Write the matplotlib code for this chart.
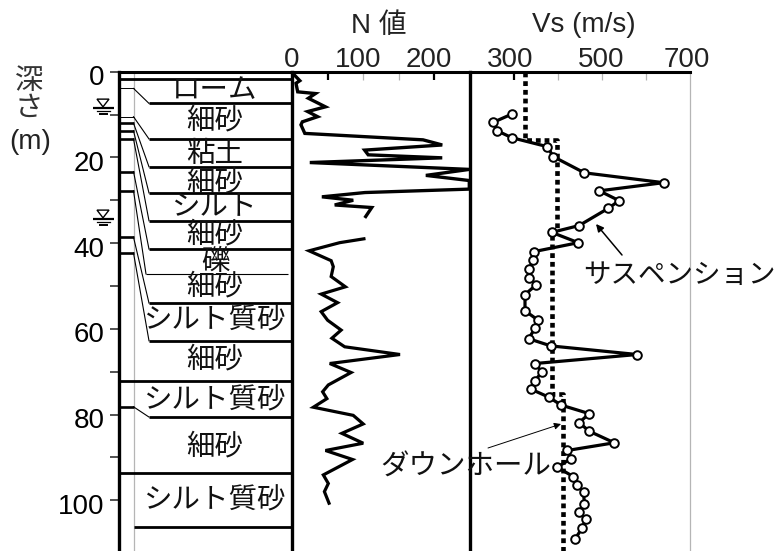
import matplotlib
matplotlib.use("Agg")
import matplotlib.pyplot as plt
from matplotlib.transforms import ScaledTranslation

plt.rcParams['font.family'] = ['Liberation Sans', 'Noto Sans CJK JP', 'DejaVu Sans']

W, H = 779, 551
TOP = 71.7
PX_PER_M = 4.285
DEPTH_MAX = (H - TOP) / PX_PER_M

# --- data ---
n_depth_a = [0.2, 2.1, 2.7, 4.7, 5.1, 6.2, 8.2, 9.3, 10.5, 11.7, 12.4, 14.4, 15.9, 17.1, 18.3, 19.4,
             20.1, 21.2, 22.8, 24.2, 25.4, 27.4, 28.2, 29.2, 30.0, 31.1, 31.7, 33.8]
n_value_a = [0, 11, 5.6, 8, 33, 23, 47, 22, 36, 14.5, 12.6, 18, 184, 211, 102, 107,
             211, 25, 249, 188, 249, 249, 102.5, 42, 86, 60, 112, 103.5]
n_depth_b = [39.0, 39.9, 41.8, 44.1, 45.5, 47.8, 50.2, 51.9, 53.9, 56.0, 58.0, 60.3, 62.2, 64.2, 66.0,
             68.1, 70.2, 73.1, 74.7, 76.3, 78.3, 80.2, 82.2, 84.4, 86.7, 88.4, 90.5, 94.1, 96.1, 98.0, 100.7]
n_value_b = [101, 67, 24, 55, 58, 55, 75, 41, 64, 41, 50, 69, 56, 74, 151.7,
             53, 83, 51, 43, 49, 30, 86, 100, 70, 100, 47, 85, 44, 51, 45.5, 52]

vs_depth = [9.9, 11.8, 13.8, 15.4, 17.5, 19.8, 23.6, 25.9, 27.8, 30.1, 31.9, 35.9, 37.5, 39.9, 42.0, 44.0,
            46.1, 48.2, 49.7, 52.0, 55.8, 58.0, 59.9, 62.3, 64.0, 66.0, 68.1, 70.1, 72.1, 74.1, 76.0,
            77.8, 79.8, 81.9, 83.9, 86.6, 88.4, 90.3, 92.3, 94.5, 96.5, 98.2, 100.8, 102.8, 104.5, 106.5, 109.0]
vs_value = [295, 253, 262, 295, 376, 389, 460, 640, 494, 539, 514, 448, 386, 446, 345, 343,
            335, 335, 351, 325, 325, 355, 348, 333, 384, 580, 348, 363, 348, 339, 380,
            407, 471, 448, 471, 528, 421, 430, 398, 435, 444, 458, 460, 448, 463, 455, 439]

dh_depth = [0, 15.9, 15.9, 37.0, 37.0, 75.3, 75.3, DEPTH_MAX]
dh_value = [326, 326, 398, 398, 386, 386, 412, 412]

stub_depth = [3.9, 10.5, 12.0, 13.8, 15.7, 23.3, 27.8, 38.6, 42.3, 78.2]
stub_thick = [False, False, True, True, True, True, True, True, True, True]
layer_depth = [7.4, 15.7, 22.2, 28.3, 34.8, 41.4, 47.2, 54.0, 62.8, 80.6]
full_depth = [1.7, 72.2, 93.6]
base_depth = 106.3
water_depth = [8.5, 34.4]

soil_names = ['ローム', '細砂', '粘土', '細砂', 'シルト', '細砂', '礫', '細砂', 'シルト質砂', '細砂', 'シルト質砂', '細砂', 'シルト質砂']
soil_depth = [3.8, 11.0, 18.8, 25.3, 31.1, 37.6, 44.0, 49.6, 57.7, 66.8, 76.4, 86.9, 99.7]

y_ticks = [0, 20, 40, 60, 80, 100]
y_minor = [10, 30, 50, 70, 90]

NUM_SIZE = 20
JP_SIZE = 20.5


def new_axes(x0, x1):
    return fig.add_axes([x0 / W, 0, (x1 - x0) / W, (H - TOP) / H])


fig = plt.figure(figsize=(W / 100, H / 100), dpi=100)
ax_log = new_axes(119, 292)
ax_n = new_axes(292, 470)
ax_vs = new_axes(470, 690)

for ax in (ax_log, ax_n, ax_vs):
    ax.set_ylim(DEPTH_MAX, 0)
    ax.patch.set_alpha(0)
    ax.spines['bottom'].set_visible(False)
    ax.spines['top'].set_linewidth(2.2)
    ax.spines['left'].set_linewidth(2.4)
    ax.spines['right'].set_visible(False)
    ax.set_yticks([])
    ax.set_xticks([])

# --- log column ---
ax_log.set_xlim(0, 173)
ax_log.set_yticks(y_ticks)
ax_log.set_yticks(y_minor, minor=True)
ax_log.tick_params(axis='y', which='both', length=6.5, width=1.1, pad=4, labelsize=NUM_SIZE, color='#222222')
down = ScaledTranslation(0, -2.5 / 72, fig.dpi_scale_trans)
for lab in ax_log.get_yticklabels():
    lab.set_transform(lab.get_transform() + down)
ax_log.axvline(14.5, color='#b5b5b5', lw=0.9)
for d, thick in zip(stub_depth, stub_thick):
    ax_log.plot([0, 14.5], [d, d], color='black', lw=1.9 if thick else 0.7, solid_capstyle='butt')
for i, (s, l) in enumerate(zip(stub_depth, layer_depth)):
    thin = i == 6
    ax_log.plot([14.5, 27 if thin else 30], [s, l], color='black', lw=0.8)
    ax_log.plot([27 if thin else 30, 169 if thin else 173], [l, l], color='black',
                lw=0.8 if thin else 2.0, solid_capstyle='butt')
for d in full_depth:
    ax_log.plot([0, 173], [d, d], color='black', lw=2.0, solid_capstyle='butt')
ax_log.plot([14.5, 173], [base_depth, base_depth], color='black', lw=2.0, solid_capstyle='butt')
for name, d in zip(soil_names, soil_depth):
    ax_log.text(96, d + 0.6, name, ha='center', va='center', fontsize=JP_SIZE, color='#111111')
for d in water_depth:
    off = 1 / PX_PER_M
    ax_log.fill([-22, -10, -16], [d - 2.1, d - 2.1, d - 0.3], facecolor='white', edgecolor='black', lw=1.0,
                clip_on=False)
    ax_log.plot([-26, -5], [d, d], color='black', lw=1.6, clip_on=False, solid_capstyle='butt')
    ax_log.plot([-22, -9], [d + 3 * off, d + 3 * off], color='black', lw=0.9, clip_on=False)
    ax_log.plot([-19, -12], [d + 6 * off, d + 6 * off], color='black', lw=1.4, clip_on=False)

# --- N value ---
ax_n.set_xlim(0, 250)
ax_n.plot(n_value_a, n_depth_a, color='black', lw=2.4, solid_joinstyle='miter', clip_on=True)
ax_n.plot(n_value_b, n_depth_b, color='black', lw=2.3, solid_joinstyle='miter')
for v in [50, 200]:
    ax_n.plot([v, v], [0, 2], color='black', lw=1.6, solid_capstyle='butt')
for v in [100, 150]:
    ax_n.plot([v, v], [0, 2], color='#b5b5b5', lw=0.9, solid_capstyle='butt')
for v, dx in [(0, 0), (100, -5), (200, -6)]:
    ax_n.annotate(str(v), xy=(v, 1), xycoords=ax_n.get_xaxis_transform(), xytext=(dx, -1),
                  textcoords='offset pixels', ha='center', va='bottom', fontsize=NUM_SIZE, color='#222222')

# --- Vs ---
ax_vs.set_xlim(200, 700)
ax_vs.spines['right'].set_visible(True)
ax_vs.spines['right'].set_color('#b5b5b5')
ax_vs.spines['right'].set_linewidth(0.9)
ax_vs.plot(dh_value, dh_depth, color='black', lw=3.3, linestyle=(0, (1.05, 0.85)), dash_capstyle='butt',
           clip_on=False)
ax_vs.plot(vs_value, vs_depth, color='black', lw=2.3, marker='o', ms=6.2, mfc='white', mec='black', mew=1.4)
ax_vs.plot([300, 300], [0, 2], color='black', lw=1.6, solid_capstyle='butt')
for v in [400, 500, 600]:
    ax_vs.plot([v, v], [0, 2], color='#b5b5b5', lw=0.9, solid_capstyle='butt')
for v, dx in [(300, -4), (500, -1), (700, -3)]:
    ax_vs.annotate(str(v), xy=(v, 1), xycoords=ax_vs.get_xaxis_transform(), xytext=(dx, -1),
                   textcoords='offset pixels', ha='center', va='bottom', fontsize=NUM_SIZE, color='#222222')


def fx(x):
    return x / W


def fy(y):
    return 1 - y / H


# --- titles and labels ---
fig.text(fx(379), fy(26), 'N 値', ha='center', va='center', fontsize=NUM_SIZE, color='#222222')
fig.text(fx(584), fy(25), 'Vs (m/s)', ha='center', va='center', fontsize=NUM_SIZE, color='#222222')
fig.text(fx(29), fy(82), '深', ha='center', va='center', fontsize=JP_SIZE, color='#333333')
fig.text(fx(29), fy(109), 'さ', ha='center', va='center', fontsize=JP_SIZE, color='#333333')
fig.text(fx(30), fy(142), '(m)', ha='center', va='center', fontsize=NUM_SIZE, color='#222222')
fig.text(fx(679), fy(276), 'サスペンション', ha='center', va='center', fontsize=19.8, color='#111111')
fig.text(fx(466), fy(468), 'ダウンホール', ha='center', va='center', fontsize=JP_SIZE, color='#111111')

ax_vs.annotate('', xy=(596 / 0.44 - 470 / 0.44 + 200, (224 - TOP) / PX_PER_M),
               xytext=(622 / 0.44 - 470 / 0.44 + 200, (255 - TOP) / PX_PER_M),
               arrowprops=dict(arrowstyle='-|>', color='black', lw=1.1, mutation_scale=11, shrinkA=0, shrinkB=0))
ax_vs.annotate('', xy=(561 / 0.44 - 470 / 0.44 + 200, (424 - TOP) / PX_PER_M),
               xytext=(488 / 0.44 - 470 / 0.44 + 200, (448 - TOP) / PX_PER_M),
               arrowprops=dict(arrowstyle='-|>', color='black', lw=0.7, mutation_scale=10, shrinkA=0, shrinkB=0))

fig.savefig('out.png', dpi=100)
